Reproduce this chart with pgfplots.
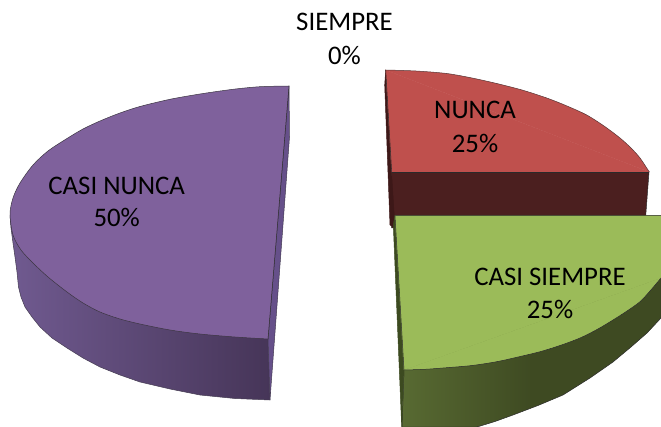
\documentclass[border=0pt]{standalone}
\usepackage{fontspec}
\setmainfont{Carlito}
\usepackage{pgfplots}
\pgfplotsset{compat=1.18}
\definecolor{redtop}{HTML}{BF504D}
\definecolor{redside}{HTML}{4B1F1F}
\definecolor{redsl}{HTML}{3D1818}
\definecolor{greentop}{HTML}{9BBB59}
\definecolor{greenL}{HTML}{586A32}
\definecolor{greenR}{HTML}{3E4A22}
\definecolor{greensl}{HTML}{3C4A20}
\definecolor{purptop}{HTML}{7F619C}
\definecolor{purpL}{HTML}{705A90}
\definecolor{purpR}{HTML}{463558}
\definecolor{purpsl}{HTML}{66508A}
\definecolor{edge}{HTML}{2A2A2A}
\begin{document}
\begin{tikzpicture}
\useasboundingbox (0,0) rectangle (661pt,427pt);
\begin{axis}[
  scale only axis, width=661pt, height=427pt,
  xmin=0, xmax=661, ymin=0, ymax=427, y dir=reverse,
  hide axis, clip=true,
  every axis plot/.append style={line width=0.5pt, line join=round},
]
% ---- NUNCA (red)
\addplot[fill=redside, draw=edge] coordinates {(391.5,172)(649,172)(645.7,216)(645.7,228)(395,228)(391.5,228)} -- cycle;
\addplot[fill=redsl, draw=redsl] coordinates {(385.7,70)(384.7,85)(390,225)(395,228)(391.5,172)} -- cycle;
\addplot[fill=redtop, draw=redtop] coordinates {(385.7,70)(649.3,172)(391.7,172)} -- cycle;
\addplot[fill=redtop, draw=edge!70!redtop, smooth] coordinates {(385.7,70)(416,71)(446.7,73.5)(472,78)(496.7,83.5)(522,90)(546.7,98)(567,106)(586.7,115)(604,126)(620,138)(631,148)(640,158)(649.3,172)};
\addplot[draw=edge] coordinates {(391.7,172)(649.3,172)};
\addplot[draw=edge] coordinates {(385.7,70)(391.7,172)};
% ---- CASI SIEMPRE (green)
\addplot[left color=greenL, right color=greenR, middle color=greenR, draw=edge] coordinates {(404,370)(402,427)(477,427)(495,421.5)(513,415)(538,405.5)(563,395)(590,378)(613,362)(631,347)(647,333)(661,318)(661,270)(520,320)} -- cycle;
\addplot[fill=greensl, draw=greensl] coordinates {(395,215.7)(393.3,225)(401.7,427)(404,370)} -- cycle;
\addplot[fill=greentop, draw=greentop] coordinates {(395,215.7)(661,215.7)(661,278)(404,370)} -- cycle;
\addplot[fill=greentop, draw=edge, smooth] coordinates {(661,278)(650,291)(640,301.7)(627,311)(613,320)(597,329.5)(580,338)(560,345.5)(540,351.7)(518,357)(496.7,361.7)(472,365.5)(446.7,367.7)(425,369.3)(404,370)};
\addplot[draw=edge] coordinates {(404,370)(395,215.7)(661,215.7)};
% ---- CASI NUNCA (purple)
\addplot[left color=purpL, right color=purpR, draw=edge!60!purpL] coordinates {(10,215)(11,228)(13,243)(15,257)(17,272)(18.5,287)(21,297)(25,307)(32,317)(40,327)(52,338)(67,348)(83,358)(100,367)(120,375)(140,382)(170,389)(200,395)(235,398.5)(270,400)(268,339)(150,300)} -- cycle;
\addplot[fill=purpsl, draw=edge!60!purpsl] coordinates {(289,86)(289.5,137)(270,400)(268,339)} -- cycle;
\addplot[fill=purptop, draw=edge!80!purptop, smooth] coordinates {(289,86)(260,86.7)(233,89.3)(200,94)(170,99.3)(140,106.5)(120,113)(100,121)(83,129)(67,138.5)(48,151)(33,165)(20,183)(13,198)(10,214)(13,235)(21,250)(33,263)(48,277)(67,292)(83,303)(100,312)(120,319)(140,324)(170,330)(200,334)(235,337)(268,339)};
\addplot[draw=edge] coordinates {(289,86)(268,339)};
\end{axis}
\begin{scope}[every node/.style={font=\fontsize{26.8}{30}\selectfont, text=black, inner sep=0pt}, y=-1pt, x=1pt, shift={(0,427pt)}]
\node at (344.5,22) {SIEMPRE};
\node at (344.5,55) {0\%};
\node at (475,110) {NUNCA};
\node at (475,143) {25\%};
\node at (550,277) {CASI SIEMPRE};
\node at (550,309) {25\%};
\node at (116.7,186) {CASI NUNCA};
\node at (116.7,217) {50\%};
\end{scope}
\end{tikzpicture}
\end{document}
